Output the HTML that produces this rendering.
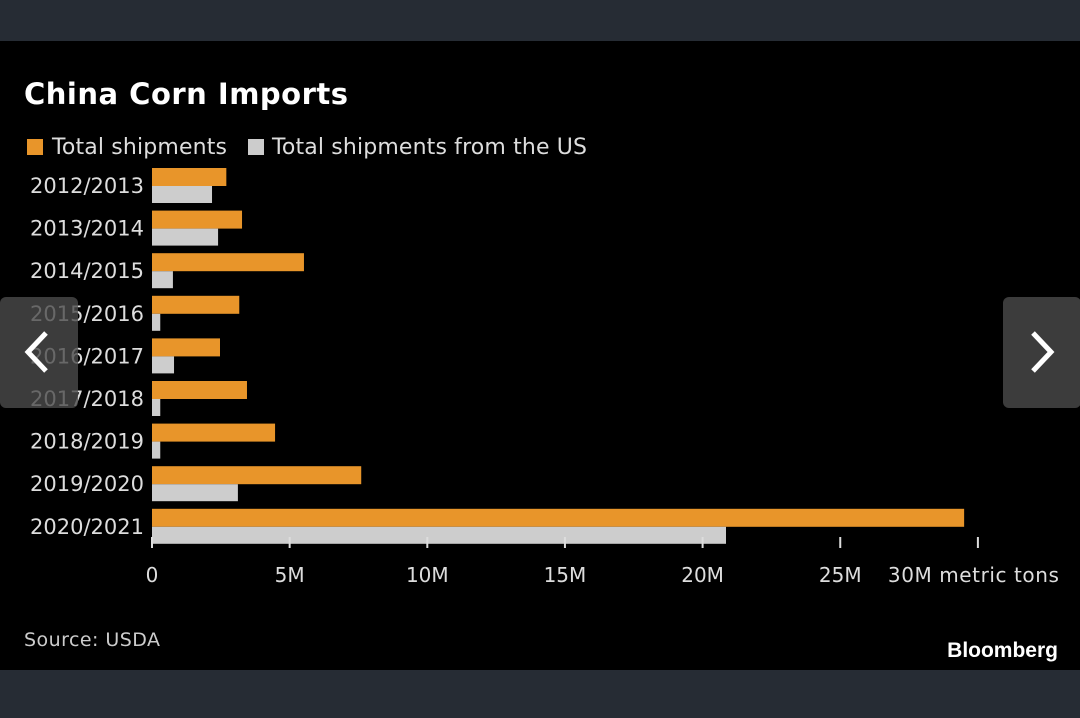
<!DOCTYPE html>
<html><head><meta charset="utf-8"><style>
body{margin:0;width:1080px;height:718px;background:#262c34;overflow:hidden;font-family:"DejaVu Sans","Liberation Sans",sans-serif}
#panel{position:absolute;left:0;top:41px;width:1080px;height:629px;background:#000}
.nav{position:absolute;top:297px;width:78px;height:111px;background:rgba(75,75,75,0.8);border-radius:6px}
</style></head><body>
<div id="panel"></div>
<svg width="1080" height="718" style="position:absolute;left:0;top:0" id="chart">
<text x="24" y="104" fill="#fff" font-size="29" font-weight="bold" font-family="DejaVu Sans" textLength="324">China Corn Imports</text>
<rect x="27" y="139" width="16" height="16" fill="#e8952a"/>
<text x="52" y="154" fill="#ddd" font-size="22" textLength="175">Total shipments</text>
<rect x="248" y="139" width="16" height="16" fill="#ccc"/>
<text x="272" y="154" fill="#ddd" font-size="22" textLength="315">Total shipments from the US</text>
<g id="bars"></g><g id="axis"></g>
<text x="24" y="646" fill="#ccc" font-size="19" textLength="136">Source: USDA</text>
<text x="1058" y="657" fill="#fff" font-size="21" font-weight="bold" text-anchor="end" font-family="Liberation Sans">Bloomberg</text>
</svg>
<div class="nav" style="left:0"><svg width="78" height="111"><polyline points="46,36 28,55 46,74" fill="none" stroke="#fff" stroke-width="5"/></svg></div>
<div class="nav" style="left:1003px"><svg width="78" height="111"><polyline points="30,36 48,55 30,74" fill="none" stroke="#fff" stroke-width="5"/></svg></div>
<script>
const categories=["2012/2013","2013/2014","2014/2015","2015/2016","2016/2017","2017/2018","2018/2019","2019/2020","2020/2021"];
const totalShipments=[2.7,3.27,5.52,3.17,2.47,3.45,4.47,7.6,29.5];
const usShipments=[2.18,2.4,0.76,0.3,0.8,0.3,0.3,3.12,20.85];
const tickValues=[0,5,10,15,20,25,30];
const tickLabels=["0","5M","10M","15M","20M","25M","30M metric tons"];
const ns="http://www.w3.org/2000/svg";
const x=v=>152+v*27.53;
const y=i=>168+i*42.6;
const bars=document.getElementById('bars'),axis=document.getElementById('axis');
function mk(tag,a,p){const e=document.createElementNS(ns,tag);for(const k in a)e.setAttribute(k,a[k]);p.appendChild(e);return e;}
categories.forEach((c,i)=>{
 const r1=mk('rect',{x:x(0),y:y(i),width:x(totalShipments[i])-x(0),height:18,fill:'#e8952a'},bars);
 
 
 const r2=mk('rect',{x:x(0),y:y(i)+18,width:x(usShipments[i])-x(0),height:17,fill:'#cdcdcd'},bars);
 
 
 const t=mk('text',{x:144,y:y(i)+25,fill:'#ddd','font-size':21,'text-anchor':'end'},bars);
 t.textContent=c;
 
 
});
tickValues.forEach((v,i)=>{
 const l=mk('line',{x1:x(v),x2:x(v),y1:537,y2:548,stroke:'#ddd','stroke-width':2},axis);
 
 
 const t=mk('text',{x:i==6?x(v)-90:x(v),y:582,fill:'#ddd','font-size':20,'text-anchor':i==6?'start':'middle'},axis);
 if(i==6)t.setAttribute('textLength','171');
 t.textContent=tickLabels[i];
 
 
});
</script>
</body></html>
